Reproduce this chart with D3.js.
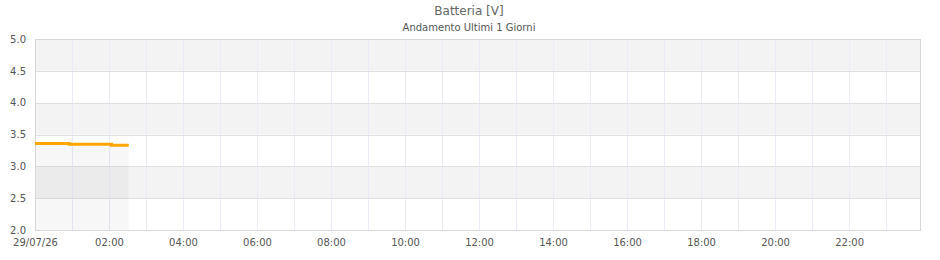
<!DOCTYPE html>
<html>
<head>
<meta charset="utf-8">
<script src="https://cdn.jsdelivr.net/npm/d3@7"></script>
<style>
  body { margin: 0; background: #fff; }
  text { font-family: "DejaVu Sans", sans-serif; }
</style>
</head>
<body>
<svg id="vis"></svg>
<script>
const width = 940;
const height = 260;
const margin = { top: 39, bottom: 30, left: 35, right: 20 };

// data
const times = ["2026-07-29T00:00", "2026-07-29T00:55", "2026-07-29T02:04", "2026-07-29T02:32"];
const values = [3.36, 3.345, 3.33, 3.33];
const yTicks = [2.0, 2.5, 3.0, 3.5, 4.0, 4.5, 5.0];
const grayBands = [[2.5, 3.0], [3.5, 4.0], [4.5, 5.0]];
const xDomain = ["2026-07-29T00:00", "2026-07-29T23:55"];

const parse = d3.timeParse("%Y-%m-%dT%H:%M");

const svg = d3.select("svg#vis");
svg.attr("width", width);
svg.attr("height", height);

const w = width - margin.left - margin.right;
const h = height - margin.top - margin.bottom;

const plot = svg.append("g").attr("transform", translate(margin.left, margin.top));

let x = d3.scaleTime().domain(xDomain.map(parse)).range([0, w]);
let y = d3.scaleLinear().domain([2, 5]).range([h, 0]);

// alternating bands
plot.selectAll(".band")
  .data(grayBands)
  .enter()
  .append("rect")
  .attr("x", 0)
  .attr("width", w)
  .attr("y", d => y(d[1]))
  .attr("height", d => y(d[0]) - y(d[1]))
  .style("fill", "#f3f3f3");

// vertical grid, every hour
plot.selectAll(".vgrid")
  .data(x.ticks(d3.timeHour.every(1)).slice(1))
  .enter()
  .append("line")
  .attr("x1", d => Math.round(x(d)) + 0.5)
  .attr("x2", d => Math.round(x(d)) + 0.5)
  .attr("y1", 0)
  .attr("y2", h)
  .style("stroke", "#ececf9");

// horizontal grid
plot.selectAll(".hgrid")
  .data(yTicks.slice(1, -1))
  .enter()
  .append("line")
  .attr("x1", 0)
  .attr("x2", w)
  .attr("y1", d => Math.round(y(d)) + 0.5)
  .attr("y2", d => Math.round(y(d)) + 0.5)
  .style("stroke", "#e0e0e0");

const pts = times.map((t, i) => [x(parse(t)), y(values[i])]);

// faint area under the line
plot.append("path")
  .attr("d", d3.area().curve(d3.curveStepAfter).x(d => d[0]).y0(h).y1(d => d[1])(pts))
  .style("fill", "#000")
  .style("opacity", 0.03);

// frame
plot.append("rect")
  .attr("x", 0.5)
  .attr("y", 0.5)
  .attr("width", w)
  .attr("height", h)
  .style("fill", "none")
  .style("stroke", "#d8d8d8");

// line
plot.append("path")
  .attr("d", d3.line().curve(d3.curveStepAfter)(pts))
  .style("fill", "none")
  .style("stroke", "#ffa500")
  .style("stroke-width", 3);

// y axis
plot.append("g")
  .call(d3.axisLeft(y).tickValues(yTicks).tickFormat(d3.format(".1f")).tickSize(0).tickPadding(9))
  .call(g => g.select(".domain").remove())
  .selectAll("text")
  .style("font-size", "10px")
  .style("fill", "#555");

// x axis
const fmt = d3.timeFormat("%H:%M");
plot.append("g")
  .attr("transform", translate(0, h))
  .call(d3.axisBottom(x).ticks(d3.timeHour.every(2))
    .tickFormat((d, i) => i == 0 ? d3.timeFormat("%d/%m/%y")(d) : fmt(d))
    .tickSize(0).tickPadding(9))
  .call(g => g.select(".domain").remove())
  .selectAll("text")
  .style("font-size", "10px")
  .style("fill", "#555");

// titles
svg.append("text")
  .attr("x", 469)
  .attr("y", 15)
  .attr("text-anchor", "middle")
  .style("font-size", "12px")
  .style("fill", "#666")
  .text("Batteria [V]");

svg.append("text")
  .attr("x", 469)
  .attr("y", 31)
  .attr("text-anchor", "middle")
  .style("font-size", "10px")
  .style("fill", "#555")
  .text("Andamento Ultimi 1 Giorni");

function translate(x, y) {
  return "translate(" + String(x) + "," + String(y) + ")";
}
</script>
</body>
</html>
